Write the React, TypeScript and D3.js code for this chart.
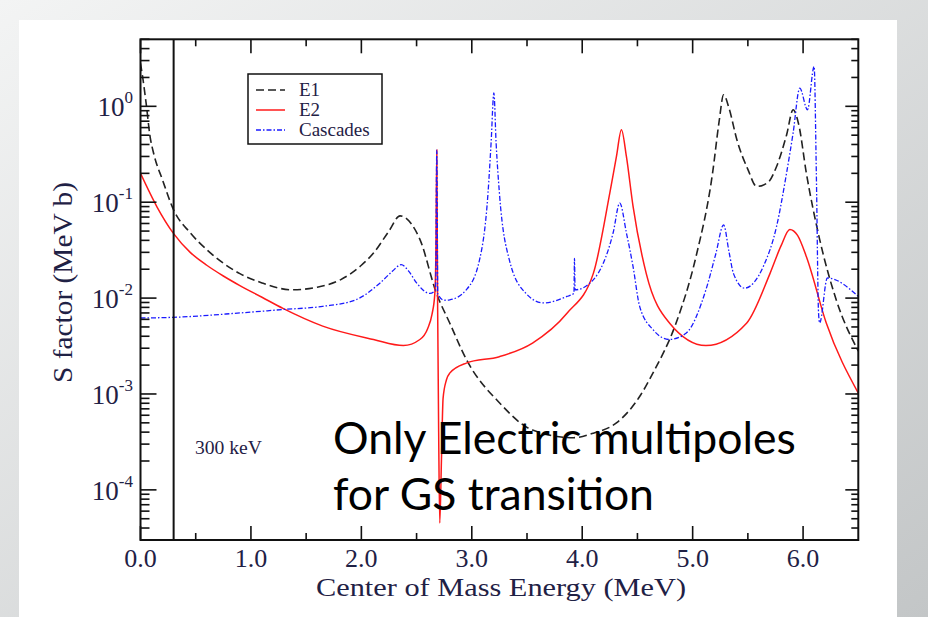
import * as d3 from "d3";

// S factor curves (energy in MeV, S in MeV b)
const e1Energy = [0, 0.02, 0.05, 0.086, 0.12, 0.2, 0.3, 0.45, 0.6, 0.9, 1.1, 1.37, 1.6, 1.81, 2.0, 2.11, 2.25, 2.35, 2.45, 2.53, 2.68, 2.8, 2.95, 3.25, 3.55, 3.92, 4.1, 4.31, 4.52, 4.64, 4.85, 5.03, 5.18, 5.24, 5.28, 5.33, 5.4, 5.5, 5.58, 5.68, 5.76, 5.85, 5.91, 5.96, 6.03, 6.15, 6.3, 6.5];
const e1Values = [2.8, 2.0, 1.1, 0.49, 0.32, 0.17, 0.083, 0.048, 0.032, 0.018, 0.0144, 0.0122, 0.013, 0.0155, 0.022, 0.0295, 0.05, 0.072, 0.06, 0.041, 0.0112, 0.0055, 0.0023, 8.1e-4, 4.2e-4, 3.5e-4, 3.9e-4, 5e-4, 9.4e-4, 1.65e-3, 5.5e-3, 0.027, 0.2, 0.7, 1.32, 0.95, 0.45, 0.22, 0.146, 0.16, 0.236, 0.5, 0.92, 0.65, 0.2, 0.041, 0.0096, 0.0028];

const e2Energy = [0, 0.15, 0.3, 0.45, 0.6, 0.75, 0.9, 1.1, 1.29, 1.65, 2.11, 2.38, 2.53, 2.6, 2.64, 2.665, 2.675, 2.683, 2.69, 2.7, 2.71, 2.725, 2.74, 2.77, 2.8, 2.95, 3.25, 3.55, 3.86, 4.1, 4.25, 4.31, 4.355, 4.4, 4.46, 4.58, 4.79, 5.12, 5.49, 5.7, 5.8, 5.88, 5.95, 6.03, 6.21, 6.5];
const e2Values = [0.2, 0.089, 0.047, 0.03, 0.022, 0.017, 0.0135, 0.0102, 0.0078, 0.0051, 0.0037, 0.0032, 0.0037, 0.0048, 0.0068, 0.011, 0.03, 0.35, 0.01, 4e-4, 4.5e-5, 2e-4, 9e-4, 1.4e-3, 1.65e-3, 2.1e-3, 2.45e-3, 3.4e-3, 6.9e-3, 0.018, 0.125, 0.3, 0.57, 0.3, 0.091, 0.018, 0.0055, 0.0032, 0.0055, 0.018, 0.035, 0.052, 0.045, 0.027, 0.0055, 0.00102];

const cascEnergy = [0, 0.3, 0.9, 1.29, 1.65, 1.95, 2.17, 2.28, 2.36, 2.43, 2.5, 2.62, 2.672, 2.683, 2.692, 2.75, 2.8, 2.95, 3.07, 3.147, 3.175, 3.2, 3.22, 3.25, 3.34, 3.49, 3.65, 3.86, 3.925, 3.93, 3.935, 4.1, 4.28, 4.34, 4.4, 4.46, 4.52, 4.64, 4.79, 4.94, 5.12, 5.21, 5.28, 5.33, 5.37, 5.47, 5.64, 5.76, 5.85, 5.91, 5.97, 6.04, 6.1, 6.12, 6.14, 6.15, 6.22, 6.5];
const cascValues = [0.0062, 0.0063, 0.007, 0.0076, 0.0082, 0.0096, 0.0144, 0.019, 0.0223, 0.019, 0.0144, 0.0112, 0.0122, 0.35, 0.011, 0.0095, 0.0096, 0.0122, 0.025, 0.125, 0.42, 1.38, 0.42, 0.125, 0.025, 0.0112, 0.0089, 0.0104, 0.0112, 0.026, 0.0122, 0.0155, 0.048, 0.098, 0.048, 0.0214, 0.0082, 0.0047, 0.0037, 0.0043, 0.0122, 0.029, 0.058, 0.03, 0.018, 0.0127, 0.0214, 0.056, 0.2, 0.53, 1.55, 0.92, 2.6, 0.2, 0.007, 0.0055, 0.0162, 0.0104];

const xTickValues = [0, 1, 2, 3, 4, 5, 6];
const xTickLabels = ["0.0", "1.0", "2.0", "3.0", "4.0", "5.0", "6.0"];
const yDecades = [0, -1, -2, -3, -4];

const legendNames = ["E1", "E2", "Cascades"];

const W = 928;
const H = 617;
const LEFT = 140.5;
const RIGHT = 858.3;
const TOP = 39.3;
const BOTTOM = 540;
const SERIF = "'Liberation Serif', 'Times New Roman', serif";
const TEXT = "#1f2145";

const styles = [
  { stroke: "#222", width: 1.6, dash: "8,4" },
  { stroke: "#ff1a1a", width: 1.5, dash: "none" },
  { stroke: "#1a1aff", width: 1.3, dash: "5,2,1.5,2" },
];

const zip = (xs: number[], ys: number[]) => xs.map((x, i) => [x, ys[i]] as [number, number]);

export default function App() {
  const x = d3.scaleLinear().domain([0, 6.5]).range([LEFT, RIGHT]);
  const y = d3.scaleLog().domain([3e-5, 5]).range([BOTTOM, TOP]);

  const line = d3
    .line<[number, number]>()
    .x((d) => x(d[0]))
    .y((d) => y(d[1]))
    .curve(d3.curveMonotoneX);

  const series = [zip(e1Energy, e1Values), zip(e2Energy, e2Values), zip(cascEnergy, cascValues)];

  const xMinor = d3.range(0.5, 6.5, 1);
  const yMinor: number[] = [];
  for (let d = -5; d <= 0; d++) {
    for (let k = 2; k <= 9; k++) {
      const v = k * Math.pow(10, d);
      if (v >= 3e-5 && v <= 5) yMinor.push(v);
    }
  }

  return (
    <svg width={W} height={H} style={{ position: "absolute", left: 0, top: 0 }}>
      <defs>
        <linearGradient id="bg" x1="0" y1="0" x2="1" y2="1">
          <stop offset="0%" stopColor="#f3f4f4" />
          <stop offset="100%" stopColor="#c3c6c7" />
        </linearGradient>
        <clipPath id="plot">
          <rect x={LEFT} y={TOP} width={RIGHT - LEFT} height={BOTTOM - TOP} />
        </clipPath>
      </defs>
      <rect width={W} height={H} fill="url(#bg)" />
      <rect x={19} y={20} width={878} height={H - 20} fill="#fff" />

      {/* curves */}
      <g clipPath="url(#plot)">
        {series.map((s, i) => (
          <path
            key={i}
            d={line(s) || ""}
            fill="none"
            stroke={styles[i].stroke}
            strokeWidth={styles[i].width}
            strokeDasharray={styles[i].dash}
          />
        ))}
      </g>

      {/* 300 keV marker */}
      <line x1={x(0.3)} x2={x(0.3)} y1={TOP} y2={BOTTOM} stroke="#111" strokeWidth={2} />
      <text x={195} y={454} fontFamily={SERIF} fontSize={18} fill={TEXT} textLength={67} lengthAdjust="spacingAndGlyphs">
        300 keV
      </text>

      {/* frame and ticks */}
      <rect x={LEFT} y={TOP} width={RIGHT - LEFT} height={BOTTOM - TOP} fill="none" stroke="#111" strokeWidth={2} />
      <g stroke="#111" strokeWidth={1.6}>
        {xTickValues.map((t) => (
          <g key={"xt" + t}>
            <line x1={x(t)} x2={x(t)} y1={BOTTOM} y2={BOTTOM - 14} />
            <line x1={x(t)} x2={x(t)} y1={TOP} y2={TOP + 14} />
          </g>
        ))}
        {xMinor.map((t) => (
          <g key={"xm" + t}>
            <line x1={x(t)} x2={x(t)} y1={BOTTOM} y2={BOTTOM - 7} />
            <line x1={x(t)} x2={x(t)} y1={TOP} y2={TOP + 7} />
          </g>
        ))}
        {yDecades.map((d) => (
          <g key={"yt" + d}>
            <line x1={LEFT} x2={LEFT + 16} y1={y(Math.pow(10, d))} y2={y(Math.pow(10, d))} />
            <line x1={RIGHT} x2={RIGHT - 13} y1={y(Math.pow(10, d))} y2={y(Math.pow(10, d))} />
          </g>
        ))}
        {yMinor.map((v, i) => (
          <g key={"ym" + i}>
            <line x1={LEFT} x2={LEFT + 9} y1={y(v)} y2={y(v)} />
            <line x1={RIGHT} x2={RIGHT - 7} y1={y(v)} y2={y(v)} />
          </g>
        ))}
      </g>

      {/* tick labels */}
      {xTickValues.map((t, i) => (
        <text key={"xl" + t} x={x(t)} y={567} textAnchor="middle" fontFamily={SERIF} fontSize={26} fill={TEXT}>
          {xTickLabels[i]}
        </text>
      ))}
      {yDecades.map((d) => (
        <text key={"yl" + d} x={133} y={y(Math.pow(10, d)) + 10} textAnchor="end" fontFamily={SERIF} fontSize={27} fill={TEXT}>
          10
          <tspan dy={-13} fontSize={17}>
            {String(d)}
          </tspan>
        </text>
      ))}

      {/* axis titles */}
      <text
        x={316}
        y={596}
        fontFamily={SERIF}
        fontSize={25}
        fill={TEXT}
        textLength={370}
        lengthAdjust="spacingAndGlyphs"
      >
        Center of Mass Energy (MeV)
      </text>
      <text
        transform="translate(72,383) rotate(-90)"
        fontFamily={SERIF}
        fontSize={27}
        fill={TEXT}
        textLength={201}
        lengthAdjust="spacingAndGlyphs"
      >
        S factor (MeV b)
      </text>

      {/* legend */}
      <rect x={248} y={74} width={134} height={70} fill="#fff" stroke="#111" strokeWidth={1.5} />
      {legendNames.map((name, i) => (
        <g key={name}>
          <line
            x1={256}
            x2={285}
            y1={90 + i * 20}
            y2={90 + i * 20}
            stroke={styles[i].stroke}
            strokeWidth={styles[i].width}
            strokeDasharray={styles[i].dash}
          />
          <text x={299} y={96 + i * 20} fontFamily={SERIF} fontSize={19} fill={TEXT}>
            {name}
          </text>
        </g>
      ))}

      {/* annotation */}
      <g fontFamily="Lato, 'Open Sans', sans-serif" fontSize={44.5} fill="#000">
        <text x={333} y={454}>Only Electric multipoles</text>
        <text x={333} y={510}>for GS transition</text>
      </g>
    </svg>
  );
}
